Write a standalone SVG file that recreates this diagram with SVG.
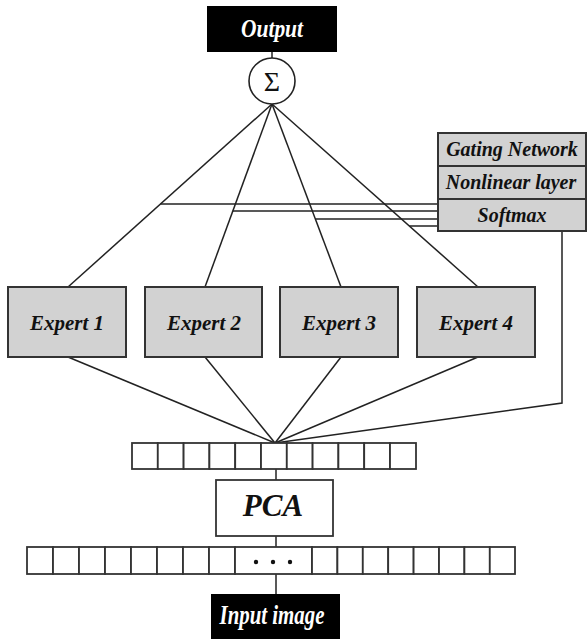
<svg xmlns="http://www.w3.org/2000/svg" width="587" height="639" viewBox="0 0 587 639">
<style>
.ln{stroke:#222;stroke-width:1.5;fill:none}
.box{fill:#d2d2d2;stroke:#333;stroke-width:2}
.wbox{fill:#fff;stroke:#333;stroke-width:1.8}
.cell{fill:#fff;stroke:#333;stroke-width:1.8}
.lbl{font-family:"Liberation Serif",serif;font-weight:bold;font-style:italic;fill:#111;text-anchor:middle}
.wl{font-family:"Liberation Serif",serif;font-weight:bold;font-style:italic;fill:#fff;text-anchor:middle}
</style>
<rect width="587" height="639" fill="#fff"/>
<g id="connectors">
<line class="ln" x1="272" y1="52" x2="272" y2="58"/>
<line class="ln" x1="272" y1="104" x2="68" y2="287"/>
<line class="ln" x1="272" y1="104" x2="205" y2="287"/>
<line class="ln" x1="272" y1="104" x2="341" y2="287"/>
<line class="ln" x1="272" y1="104" x2="478" y2="287"/>
<line class="ln" x1="160.5" y1="204" x2="438" y2="204"/>
<line class="ln" x1="232.8" y1="211" x2="438" y2="211"/>
<line class="ln" x1="315.4" y1="219" x2="438" y2="219"/>
<line class="ln" x1="409.3" y1="226" x2="438" y2="226"/>
<line class="ln" x1="68" y1="357" x2="275" y2="443"/>
<line class="ln" x1="205" y1="357" x2="275" y2="443"/>
<line class="ln" x1="341" y1="357" x2="275" y2="443"/>
<line class="ln" x1="478" y1="357" x2="275" y2="443"/>
<polyline class="ln" points="562,231 562,403 275,443"/>
<line class="ln" x1="276" y1="469" x2="276" y2="480"/>
<line class="ln" x1="276" y1="536" x2="276" y2="547"/>
<line class="ln" x1="276" y1="574" x2="276" y2="594"/>
</g>
<g id="output">
<rect x="207" y="6" width="130" height="46" fill="#000"/>
<text class="wl" x="272" y="37" font-size="25" textLength="62" lengthAdjust="spacingAndGlyphs">Output</text>
</g>
<g id="sum">
<circle cx="272" cy="81" r="23" fill="#fff" stroke="#222" stroke-width="1.6"/>
<text x="272" y="91" font-family="Liberation Serif,serif" font-size="28" text-anchor="middle" fill="#111">Σ</text>
</g>
<g id="gating">
<rect class="box" x="438" y="133" width="148" height="98"/>
<line x1="438" y1="166" x2="586" y2="166" stroke="#333" stroke-width="2"/>
<line x1="438" y1="199" x2="586" y2="199" stroke="#333" stroke-width="2"/>
<text class="lbl" x="512" y="156" font-size="20">Gating Network</text>
<text class="lbl" x="511" y="189" font-size="20">Nonlinear layer</text>
<text class="lbl" x="512" y="222" font-size="20">Softmax</text>
</g>
<g id="expert1">
<rect class="box" x="8" y="287" width="118" height="70"/>
<text class="lbl" x="67" y="330" font-size="21">Expert 1</text>
</g>
<g id="expert2">
<rect class="box" x="145" y="287" width="117" height="70"/>
<text class="lbl" x="204" y="330" font-size="21">Expert 2</text>
</g>
<g id="expert3">
<rect class="box" x="280" y="287" width="118" height="70"/>
<text class="lbl" x="339" y="330" font-size="21">Expert 3</text>
</g>
<g id="expert4">
<rect class="box" x="417" y="287" width="118" height="70"/>
<text class="lbl" x="476" y="330" font-size="21">Expert 4</text>
</g>
<g id="feature-vector">
<rect class="cell" x="132" y="443" width="25.8" height="26"/>
<rect class="cell" x="157.8" y="443" width="25.8" height="26"/>
<rect class="cell" x="183.6" y="443" width="25.8" height="26"/>
<rect class="cell" x="209.4" y="443" width="25.8" height="26"/>
<rect class="cell" x="235.2" y="443" width="25.8" height="26"/>
<rect class="cell" x="261" y="443" width="25.8" height="26"/>
<rect class="cell" x="286.8" y="443" width="25.8" height="26"/>
<rect class="cell" x="312.6" y="443" width="25.8" height="26"/>
<rect class="cell" x="338.4" y="443" width="25.8" height="26"/>
<rect class="cell" x="364.2" y="443" width="25.8" height="26"/>
<rect class="cell" x="390" y="443" width="26" height="26"/>
</g>
<g id="pca">
<rect class="wbox" x="216" y="480" width="117" height="56"/>
<text class="lbl" x="273" y="516" font-size="31">PCA</text>
</g>
<g id="input-vector">
<rect class="cell" x="27" y="547" width="26" height="27"/>
<rect class="cell" x="53" y="547" width="26" height="27"/>
<rect class="cell" x="79" y="547" width="26" height="27"/>
<rect class="cell" x="105" y="547" width="26" height="27"/>
<rect class="cell" x="131" y="547" width="26" height="27"/>
<rect class="cell" x="157" y="547" width="26" height="27"/>
<rect class="cell" x="183" y="547" width="26" height="27"/>
<rect class="cell" x="209" y="547" width="26" height="27"/>
<rect class="cell" x="235" y="547" width="77" height="27"/>
<rect class="cell" x="312" y="547" width="25.4" height="27"/>
<rect class="cell" x="337.4" y="547" width="25.4" height="27"/>
<rect class="cell" x="362.8" y="547" width="25.4" height="27"/>
<rect class="cell" x="388.2" y="547" width="25.4" height="27"/>
<rect class="cell" x="413.6" y="547" width="25.4" height="27"/>
<rect class="cell" x="439" y="547" width="25.4" height="27"/>
<rect class="cell" x="464.4" y="547" width="25.4" height="27"/>
<rect class="cell" x="489.8" y="547" width="25.2" height="27"/>
<circle cx="256" cy="562" r="2.2" fill="#111"/>
<circle cx="273" cy="562" r="2.2" fill="#111"/>
<circle cx="290" cy="562" r="2.2" fill="#111"/>
</g>
<g id="input">
<rect x="211" y="594" width="129" height="46" fill="#000"/>
<text class="wl" x="272" y="624" font-size="27" textLength="105" lengthAdjust="spacingAndGlyphs">Input image</text>
</g>
</svg>
